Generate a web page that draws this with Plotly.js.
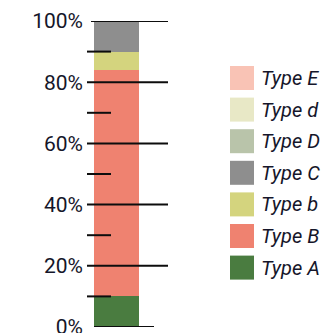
<!DOCTYPE html>
<html>
<head>
<meta charset="utf-8">
<script src="https://cdn.plot.ly/plotly-3.0.1.min.js"></script>
<style>html,body{margin:0;padding:0;background:#fff;}</style>
</head>
<body>
<div id="chart" style="width:327px;height:333px;"></div>
<script>
// Data
const seriesNames = ["Type A", "Type B", "Type b", "Type C", "Type D", "Type d", "Type E"];
const seriesValues = [10, 74, 6, 10, 0, 0, 0];
const seriesColors = ["#4a7c40", "#ef8270", "#d4d47e", "#8e8e8e", "#b9c4aa", "#e8e8c6", "#f9c3b5"];
const majorTicks = [0, 20, 40, 60, 80, 100];
const majorTickText = ["0%", "20%", "40%", "60%", "80%", "100%"];
const minorTicks = [10, 30, 50, 70, 90];

const W = 327, H = 333;
const mL = 87, mR = 159, mT = 21, mB = 6;
const plotW = W - mL - mR, plotH = H - mT - mB;
const px = p => (p - mL) / plotW;      // pixel x -> paper x
const py = p => (H - mB - p) / plotH;  // pixel y -> paper y

const traces = seriesNames.map((n, i) => ({
  type: "bar", x: [0], y: [seriesValues[i]], name: n, width: 1,
  marker: { color: seriesColors[i], line: { width: 0 } },
  showlegend: false, hoverinfo: "skip"
}));

const shapes = [];
majorTicks.forEach(v => {
  let x0 = px(87), x1 = px(168);
  if (v === 100) x0 = px(91);
  if (v === 0) { x0 = px(94); x1 = px(154); }
  shapes.push({ type: "line", xref: "paper", yref: "y", x0: x0, x1: x1, y0: v, y1: v,
    line: { color: "#0d0d0d", width: 2 }, layer: "above" });
});
minorTicks.forEach(v => {
  shapes.push({ type: "line", xref: "paper", yref: "y", x0: px(87), x1: px(111), y0: v, y1: v,
    line: { color: "#0d0d0d", width: 2 }, layer: "above" });
});

// custom legend (reversed order)
const annotations = [];
const rowTop = 78, rowStep = 31.6;
for (let k = 0; k < seriesNames.length; k++) {
  const i = seriesNames.length - 1 - k;
  const cy = rowTop + k * rowStep;
  shapes.push({ type: "rect", xref: "paper", yref: "paper",
    x0: px(230), x1: px(254), y0: py(cy - 12), y1: py(cy + 12),
    fillcolor: seriesColors[i], line: { width: 0 }, layer: "above" });
  annotations.push({ xref: "paper", yref: "paper", x: px(259), y: py(cy),
    xanchor: "left", yanchor: "middle", showarrow: false, text: seriesNames[i],
    font: { family: "Roboto", size: 20, color: "#15162a", style: "italic" } });
}

const layout = {
  width: W, height: H,
  margin: { l: mL, r: mR, t: mT, b: mB, pad: 0 },
  paper_bgcolor: "#ffffff", plot_bgcolor: "#ffffff",
  barmode: "stack", showlegend: false,
  xaxis: { range: [-0.5 - 7/45, -0.5 - 7/45 + plotW/45], visible: false, fixedrange: true },
  yaxis: { range: [0, 100], tickvals: majorTicks, ticktext: majorTickText,
    showgrid: false, zeroline: false, showline: false, ticks: "",
    ticklabelstandoff: 3, ticklabeloverflow: "allow",
    tickfont: { family: "Roboto", size: 21, color: "#15162a" } },
  shapes: shapes, annotations: annotations
};

Plotly.newPlot("chart", traces, layout, { staticPlot: true, displayModeBar: false });
</script>
</body>
</html>
